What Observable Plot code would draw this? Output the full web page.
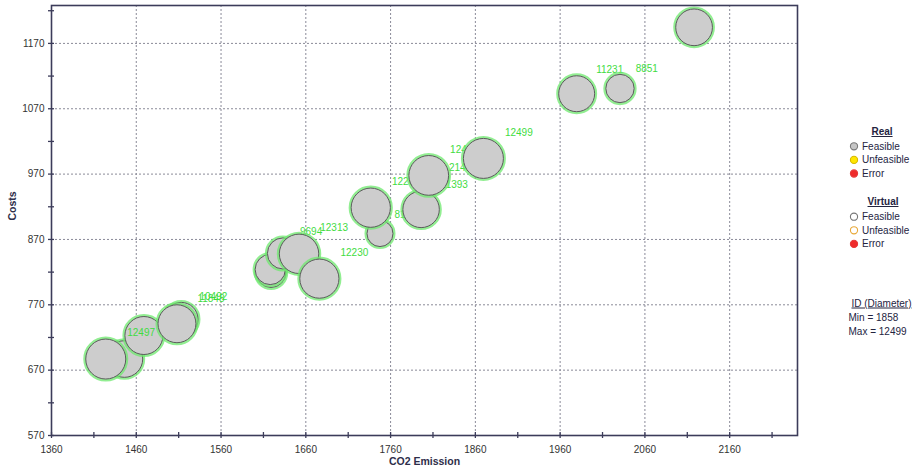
<!DOCTYPE html>
<html>
<head>
<meta charset="utf-8">
<script src="https://cdn.jsdelivr.net/npm/d3@7"></script>
<script src="https://cdn.jsdelivr.net/npm/@observablehq/plot@0.6"></script>
<style>
  body { margin: 0; background: #fff; font-family: "Liberation Sans", Arial, sans-serif; }
  #wrap { position: relative; width: 916px; height: 474px; overflow: hidden; }
  #legend { position: absolute; left: 830px; top: 0; }
</style>
</head>
<body>
<div id="wrap">
  <div id="chart"></div>
  <svg id="legend" width="86" height="474"></svg>
</div>
<script>
// Solutions, listed in drawing order (later bubbles sit on top of earlier ones)
const ids   = [11437, 11872, 10492, 11848, 12497, 9180, 9420, 9694, 12313, 12230, 8126, 12264, 11393, 2143, 12418, 12499, 11231, 8851, 11472];
const co2   = [1446, 1469, 1513, 1508, 1424, 1619, 1618, 1633, 1652, 1676, 1747.5, 1736.6, 1796, 1823, 1805, 1869.5, 1979.5, 2030.6, 2118];
const costs = [687, 723, 748, 741, 687, 819, 824, 848.6, 848, 810, 879, 918.6, 916, 965, 968, 994, 1093, 1101, 1194.6];

// Axis ticks
const xTicks = [1360, 1460, 1560, 1660, 1760, 1860, 1960, 2060, 2160];
const yTicks = [570, 670, 770, 870, 970, 1070, 1170];
const xMinor = d3.range(1360, 2240, 50);
const yMinor = d3.range(570, 1228, 50);

// Legend content
const realItems    = ["Feasible", "Unfeasible", "Error"];
const virtualItems = ["Feasible", "Unfeasible", "Error"];
const idMin = 1858;
const idMax = d3.max(ids);

const rows = ids.map((id, i) => ({id, co2: co2[i], cost: costs[i]}));

// Bubble diameter is proportional to the solution ID
const rOptions = {type: "linear", domain: [0, idMax], range: [0, 20]};
const rScale = Plot.scale({r: rOptions});

const green = "#3fdc3f";
const bubbleMarks = rows.flatMap(row => {
  const r = rScale.apply(row.id);
  return [
    Plot.dot([row], {x: "co2", y: "cost", r: "id", fill: "none", stroke: "#6ee86e", strokeWidth: 5, strokeOpacity: 0.75}),
    Plot.dot([row], {x: "co2", y: "cost", r: "id", fill: "#cdcdcd", stroke: "#5c5c5c", strokeWidth: 1}),
    Plot.text([row], {x: "co2", y: "cost", text: t => String(t.id), textAnchor: "start", lineAnchor: "middle",
      dx: r + 1.5, dy: -(r + 6), fill: green, fontSize: 10, clip: true})
  ];
});

const axisColor = "#3c3c5a";
const gridStyle = {stroke: "#8a8a98", strokeOpacity: 1, strokeDasharray: "2,2", strokeWidth: 1};

const chart = Plot.plot({
  width: 916,
  height: 474,
  marginLeft: 51,
  marginRight: 119,
  marginTop: 5,
  marginBottom: 39,
  style: {fontFamily: "Liberation Sans, Arial, sans-serif", fontSize: "10px", color: "#333", background: "white"},
  x: {domain: [1360, 2240]},
  y: {domain: [570, 1228]},
  r: rOptions,
  marks: [
    Plot.gridX(xTicks.slice(1), gridStyle),
    Plot.gridY(yTicks.slice(1), gridStyle),
    ...bubbleMarks,
    Plot.axisX(xMinor, {tickSize: 6, dy: -3, tickFormat: () => "", stroke: axisColor, strokeWidth: 1.3, label: null}),
    Plot.axisX(xTicks, {tickSize: 0, tickPadding: 10, label: null, tickFormat: d => String(d)}),
    Plot.axisY(yMinor, {tickSize: 6, dx: 3, tickFormat: () => "", stroke: axisColor, strokeWidth: 1.3, label: null}),
    Plot.axisY(yTicks, {tickSize: 0, tickPadding: 7, label: null, tickFormat: d => String(d)}),
    Plot.frame({stroke: axisColor, strokeWidth: 1.6}),
    Plot.text(["CO2 Emission"], {text: d => d, frameAnchor: "bottom", dy: 29, fontWeight: "bold", fontSize: 10.5, fill: "#2e2e4a"}),
    Plot.text(["Costs"], {text: d => d, frameAnchor: "left", dx: -39, rotate: -90, fontWeight: "bold", fontSize: 10.5, fill: "#2e2e4a"})
  ]
});
document.getElementById("chart").append(chart);

// Legend
const lg = d3.select("#legend");
const ink = "#24243f";
function heading(text, cx, y) {
  lg.append("text").attr("x", cx).attr("y", y).attr("text-anchor", "middle")
    .attr("font-size", 10).attr("font-weight", "bold").attr("fill", ink)
    .style("text-decoration", "underline").text(text);
}
function items(labels, styles, y0) {
  labels.forEach((label, i) => {
    const cy = y0 + i * 13.6;
    lg.append("circle").attr("cx", 24).attr("cy", cy).attr("r", 3.6)
      .attr("fill", styles[i].fill).attr("stroke", styles[i].stroke).attr("stroke-width", 1.1);
    lg.append("text").attr("x", 32).attr("y", cy + 3.4).attr("font-size", 10).attr("fill", ink).text(label);
  });
}
heading("Real", 52, 135);
items(realItems, [
  {fill: "#c6c6c6", stroke: "#7a7a7a"},
  {fill: "#ffe600", stroke: "#d6b800"},
  {fill: "#ef2b2b", stroke: "#e63a3a"}
], 146.3);
heading("Virtual", 53, 205);
items(virtualItems, [
  {fill: "#fff", stroke: "#777"},
  {fill: "#fff", stroke: "#e8a838"},
  {fill: "#ef2b2b", stroke: "#e63a3a"}
], 216.7);
lg.append("text").attr("x", 21.5).attr("y", 306.5).attr("font-size", 10).attr("fill", ink)
  .style("text-decoration", "underline").text("ID (Diameter)");
lg.append("text").attr("x", 18.5).attr("y", 321).attr("font-size", 10).attr("fill", ink).text(`Min = ${idMin}`);
lg.append("text").attr("x", 18.5).attr("y", 334.5).attr("font-size", 10).attr("fill", ink).text(`Max = ${idMax}`);
</script>
</body>
</html>
